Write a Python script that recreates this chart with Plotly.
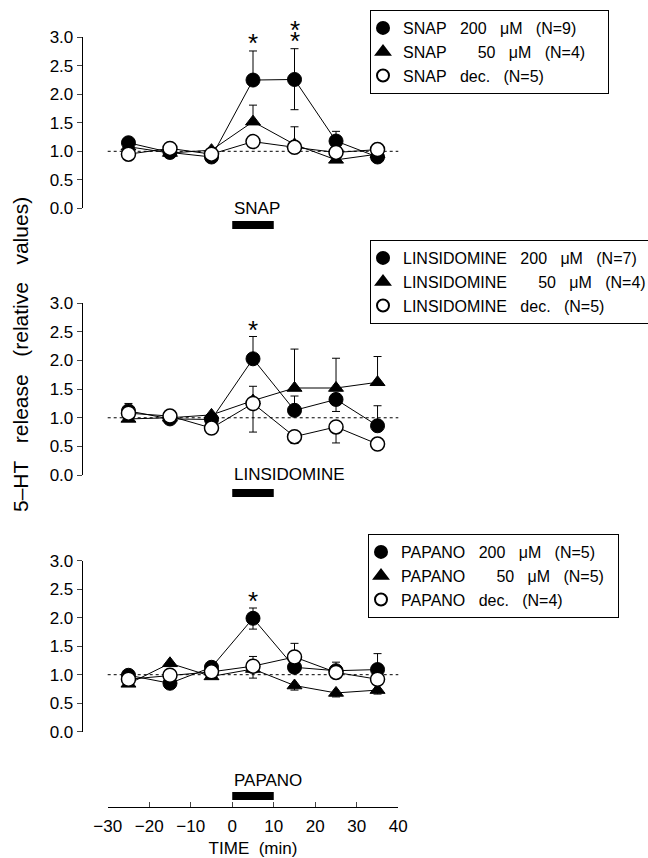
import plotly.graph_objects as go

# ---------------- data ----------------
TIME = [-25, -15, -5, 5, 15, 25, 35]
X_TICKS = [-30, -20, -10, 0, 10, 20, 30, 40]
Y_TICKS = [0.0, 0.5, 1.0, 1.5, 2.0, 2.5, 3.0]
BASELINE = 1.0
APPLICATION = [0, 10]  # drug application period (min)

# SNAP panel
SNAP_200 = [1.15, 0.98, 0.90, 2.25, 2.26, 1.18, 0.90]
SNAP_200_UP = [0.05, 0, 0, 0.51, 0.54, 0.17, 0]
SNAP_200_DN = [0, 0, 0, 0, 0.53, 0, 0]
SNAP_50 = [1.08, 0.97, 1.02, 1.52, 1.12, 0.85, 0.95]
SNAP_50_UP = [0, 0, 0, 0.29, 0.31, 0, 0]
SNAP_50_DN = [0, 0, 0, 0, 0, 0, 0]
SNAP_DEC = [0.95, 1.05, 0.95, 1.17, 1.07, 0.98, 1.03]
SNAP_DEC_UP = [0, 0, 0, 0.05, 0, 0, 0]
SNAP_DEC_DN = [0, 0, 0, 0, 0, 0, 0]
# asterisks: anchored at the top of the error bar, stacked upward
SNAP_STAR_X = [5, 15, 15]
SNAP_STAR_Y = [2.77, 2.81, 2.81]
SNAP_STAR_LEVEL = [1, 1, 2]

# LINSIDOMINE panel
LIN_200 = [1.12, 0.98, 0.97, 2.03, 1.13, 1.32, 0.86]
LIN_200_UP = [0.13, 0, 0, 0.39, 0.25, 0, 0.35]
LIN_200_DN = [0, 0, 0, 0, 0, 0.21, 0]
LIN_50 = [0.98, 1.00, 1.05, 1.30, 1.52, 1.52, 1.62]
LIN_50_UP = [0, 0, 0, 0.25, 0.68, 0.52, 0.45]
LIN_50_DN = [0, 0, 0, 0, 0, 0, 0]
LIN_DEC = [1.08, 1.03, 0.82, 1.25, 0.67, 0.84, 0.54]
LIN_DEC_UP = [0, 0, 0, 0, 0, 0, 0]
LIN_DEC_DN = [0, 0, 0, 0.50, 0.12, 0.28, 0.04]
LIN_STAR_X = [5]
LIN_STAR_Y = [2.42]
LIN_STAR_LEVEL = [1]

# PAPANO panel
PAP_200 = [0.99, 0.85, 1.13, 1.99, 1.13, 1.07, 1.09]
PAP_200_UP = [0.08, 0, 0, 0.18, 0, 0.15, 0.28]
PAP_200_DN = [0, 0, 0, 0.19, 0, 0, 0]
PAP_50 = [0.84, 1.20, 0.97, 1.10, 0.81, 0.68, 0.73]
PAP_50_UP = [0, 0, 0, 0, 0, 0, 0]
PAP_50_DN = [0, 0, 0, 0.16, 0.08, 0.07, 0.07]
PAP_DEC = [0.92, 0.99, 1.05, 1.15, 1.31, 1.04, 0.92]
PAP_DEC_UP = [0, 0, 0, 0.17, 0.24, 0, 0]
PAP_DEC_DN = [0, 0, 0, 0, 0, 0, 0]
PAP_STAR_X = [5]
PAP_STAR_Y = [2.17]
PAP_STAR_LEVEL = [1]

NB = "\u00a0"
SNAP_NAMES = [f"SNAP{NB*3}200{NB*3}\u03bcM{NB*3}(N=9){NB*6}",
              f"SNAP{NB*7}50{NB*3}\u03bcM{NB*3}(N=4)",
              f"SNAP{NB*3}dec.{NB*3}(N=5)"]
LIN_NAMES = [f"LINSIDOMINE{NB*3}200{NB*3}\u03bcM{NB*3}(N=7){NB*4}",
             f"LINSIDOMINE{NB*7}50{NB*3}\u03bcM{NB*3}(N=4)",
             f"LINSIDOMINE{NB*3}dec.{NB*3}(N=5)"]
PAP_NAMES = [f"PAPANO{NB*3}200{NB*3}\u03bcM{NB*3}(N=5){NB*4}",
             f"PAPANO{NB*7}50{NB*3}\u03bcM{NB*3}(N=5)",
             f"PAPANO{NB*3}dec.{NB*3}(N=4)"]
DRUG_LABELS = ["SNAP", "LINSIDOMINE", "PAPANO"]

# ---------------- layout geometry ----------------
W, H = 648, 858
FONT = "Liberation Sans, Arial, Helvetica, sans-serif"


def py(pix):
    return 1 - pix / H


def px(pix):
    return pix / W


PANEL_PIX = [(208.3, 37.3), (475.0, 303.3), (731.7, 560.7)]  # (y of 0.0, y of 3.0)
X_DOMAIN = [px(107.7), px(398.3)]
YAXIS_POS = px(81.7)
XAXIS_POS = py(807)
LEGEND_POS = [(370, 10), (370, 240), (368, 534)]
LABEL_PIX = [208, 475, 780]
BAR_PIX = [(221, 229), (489, 497), (792, 800)]
STAR_GAP = [7, 18]  # pixel offset of first / second asterisk above anchor

panels = [
    (SNAP_NAMES, [(SNAP_200, SNAP_200_UP, SNAP_200_DN), (SNAP_50, SNAP_50_UP, SNAP_50_DN),
                  (SNAP_DEC, SNAP_DEC_UP, SNAP_DEC_DN)], SNAP_STAR_X, SNAP_STAR_Y, SNAP_STAR_LEVEL),
    (LIN_NAMES, [(LIN_200, LIN_200_UP, LIN_200_DN), (LIN_50, LIN_50_UP, LIN_50_DN),
                 (LIN_DEC, LIN_DEC_UP, LIN_DEC_DN)], LIN_STAR_X, LIN_STAR_Y, LIN_STAR_LEVEL),
    (PAP_NAMES, [(PAP_200, PAP_200_UP, PAP_200_DN), (PAP_50, PAP_50_UP, PAP_50_DN),
                 (PAP_DEC, PAP_DEC_UP, PAP_DEC_DN)], PAP_STAR_X, PAP_STAR_Y, PAP_STAR_LEVEL),
]

MARKERS = [
    dict(symbol="circle", size=14, color="black", line=dict(color="black", width=1)),
    dict(symbol="triangle-up", size=13, color="black", line=dict(color="black", width=1)),
    dict(symbol="circle", size=14, color="white", line=dict(color="black", width=1.5)),
]

fig = go.Figure()
annotations = []
for i, (names, series, sx, sy, slev) in enumerate(panels):
    xa = "x" if i == 0 else f"x{i+1}"
    ya = "y" if i == 0 else f"y{i+1}"
    leg = "legend" if i == 0 else f"legend{i+1}"
    for vals, up, dn in series:
        fig.add_trace(go.Scatter(x=TIME, y=vals, mode="lines", xaxis=xa, yaxis=ya,
                                 line=dict(color="black", width=1), showlegend=False,
                                 hoverinfo="skip"))
    for k in [0, 1, 2]:
        vals, up, dn = series[k]
        fig.add_trace(go.Scatter(
            x=TIME, y=vals, mode="markers", xaxis=xa, yaxis=ya, name=names[k],
            legend=leg, legendrank=k + 1, marker=MARKERS[k], cliponaxis=False,
            error_y=dict(type="data", symmetric=False, array=up, arrayminus=dn,
                         color="black", thickness=1, width=4)))
    for x_, y_, lev in zip(sx, sy, slev):
        annotations.append(dict(text="*", x=x_, y=y_, xref=xa, yref=ya, showarrow=True,
                                arrowcolor="rgba(0,0,0,0)", arrowwidth=0.1, ax=0,
                                ay=-STAR_GAP[lev - 1], xanchor="center", yanchor="middle",
                                font=dict(size=26, family=FONT, color="black")))

layout = dict(
    width=W, height=H, margin=dict(l=0, r=0, t=0, b=0, autoexpand=False),
    paper_bgcolor="white", plot_bgcolor="white",
    font=dict(family=FONT, size=17, color="black"),
    showlegend=True,
)

shapes = []
for i in range(3):
    sfx = "" if i == 0 else str(i + 1)
    y0p, y3p = PANEL_PIX[i]
    layout[f"yaxis{sfx}"] = dict(
        domain=[py(y0p), py(y3p)], range=[0, 3], anchor="free", position=YAXIS_POS,
        tickvals=Y_TICKS, tickformat=".1f", ticks="outside", ticklen=5, tickwidth=1,
        showline=True, linecolor="black", linewidth=1, showgrid=False, zeroline=False,
        tickfont=dict(size=17), fixedrange=True)
    xdict = dict(domain=X_DOMAIN, range=[X_TICKS[0], X_TICKS[-1]], showgrid=False,
                 zeroline=False, fixedrange=True)
    if i < 2:
        xdict.update(visible=False, anchor=f"y{sfx}", matches="x3")
    else:
        xdict.update(anchor="free", position=XAXIS_POS, tickvals=X_TICKS, ticks="inside",
                     ticklen=5, tickwidth=1, showline=True, linecolor="black", linewidth=1,
                     tickfont=dict(size=17), ticklabelstandoff=4,
                     title=dict(text="TIME\u00a0\u00a0(min)", font=dict(size=17), standoff=6))
    layout[f"xaxis{sfx}"] = xdict

    lx, ly = LEGEND_POS[i]
    layout[f"legend{sfx}"] = dict(
        x=px(lx), y=py(ly), xanchor="left", yanchor="top", bgcolor="white",
        bordercolor="black", borderwidth=1, font=dict(size=16, family=FONT),
        itemsizing="constant", tracegroupgap=0, indentation=-8)

    xref = "x" if i == 0 else f"x{i+1}"
    yref = "y" if i == 0 else f"y{i+1}"
    shapes.append(dict(type="line", xref=f"{xref} domain", yref=yref, x0=0, x1=1,
                       y0=BASELINE, y1=BASELINE, line=dict(color="black", width=1, dash="dot"),
                       layer="below"))
    b0, b1 = BAR_PIX[i]
    shapes.append(dict(type="rect", xref=xref, yref="paper", x0=APPLICATION[0],
                       x1=APPLICATION[1], y0=py(b1), y1=py(b0), fillcolor="black",
                       line=dict(width=0)))
    annotations.append(dict(text=DRUG_LABELS[i], xref=xref, yref="paper", x=APPLICATION[0],
                            y=py(LABEL_PIX[i]), xanchor="left", yanchor="middle",
                            showarrow=False, font=dict(size=17, family=FONT)))

annotations.append(dict(text=f"5\u2013HT{NB*3}release{NB*3}(relative{NB*3}values)",
                        xref="paper", yref="paper", x=px(21), y=py(355), textangle=-90,
                        showarrow=False, xanchor="center", yanchor="middle",
                        font=dict(size=21, family=FONT)))
layout["shapes"] = shapes
layout["annotations"] = annotations
fig.update_layout(**layout)

fig.write_html("out.html", config={"displayModeBar": False},
               post_script="document.body.style.margin='0px';")
